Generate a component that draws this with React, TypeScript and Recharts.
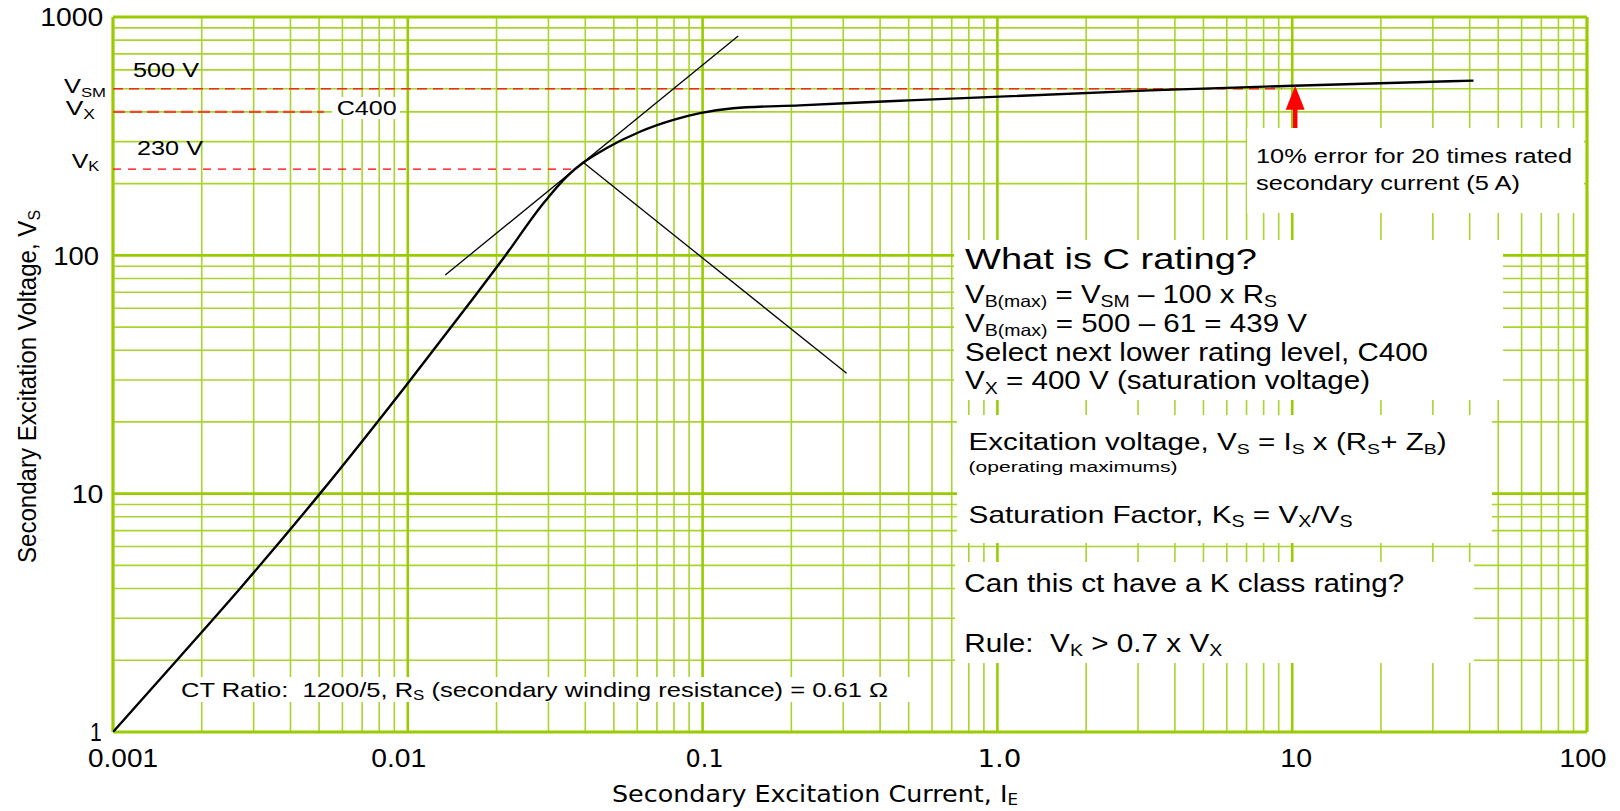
import React from 'react';
import { ComposedChart, Line, XAxis, YAxis, ReferenceLine } from 'recharts';

// ---------- data ----------
const X_DECADES = [0.001, 0.01, 0.1, 1, 10, 100];
const X_TICK_LABELS = ['0.001', '0.01', '0.1', '1.0', '10', '100'];
const Y_DECADES = [1, 10, 100, 1000];
const Y_TICK_LABELS = ['1', '10', '100', '1000'];
const MINOR_MULTS = [2, 3, 4, 5, 6, 7, 8, 9];

// excitation curve: secondary excitation current (A) vs secondary voltage (V)
const CURVE_I = [0.001, 0.00167, 0.00273, 0.0051, 0.0099, 0.0165, 0.0211, 0.0288, 0.0346, 0.0394, 0.0473, 0.0613, 0.0796, 0.098, 0.127, 0.214, 0.467, 3.29, 10.1, 41.2];
const CURVE_V = [1, 2.04, 4.07, 10.2, 28.6, 65, 97.2, 165, 214, 245, 282, 330, 370, 395, 414, 426, 445, 492, 515, 541];

// knee-point construction lines
const TAN_UP_I = [0.0134, 0.132];
const TAN_UP_V = [82.7, 833];
const TAN_DN_I = [0.0394, 0.308];
const TAN_DN_V = [245, 32];

// reference voltages
const V_SM = 500;
const V_X = 400;
const V_K = 230;
const V_SM_END_I = 9.2;
const V_X_END_I = 0.0052;
const V_K_END_I = 0.0371;

// 20x rated current marker
const ARROW_I = 10;
const ARROW_BASE_V = 340;
const ARROW_TIP_V = 515;

const curveData = CURVE_I.map((x, i) => ({ x, y: CURVE_V[i] }));
const tanUpData = TAN_UP_I.map((x, i) => ({ x, y: TAN_UP_V[i] }));
const tanDnData = TAN_DN_I.map((x, i) => ({ x, y: TAN_DN_V[i] }));
const X_MINOR = X_DECADES.slice(0, -1).flatMap((d) => MINOR_MULTS.map((m) => +(d * m).toPrecision(3)));
const Y_MINOR = Y_DECADES.slice(0, -1).flatMap((d) => MINOR_MULTS.map((m) => +(d * m).toPrecision(3)));

// ---------- style ----------
const FONT = "'Liberation Sans', Arial, Helvetica, sans-serif";
const FONT_V = "'DejaVu Sans', Verdana, sans-serif";
const GRID_MINOR = '#a8d42c';
const GRID_MAJOR = '#99cc00';

const X_TICK_STYLE: Record<string, { dx: number; w: number; family: string }> = {
  '0.001': { dx: 10, w: 70, family: FONT },
  '0.01': { dx: -9, w: 55, family: FONT },
  '0.1': { dx: 2, w: 38, family: FONT_V },
  '1.0': { dx: 2, w: 44, family: FONT_V },
  '10': { dx: 4, w: 31.7, family: FONT },
  '100': { dx: -4, w: 47, family: FONT },
};
const Y_TICK_STYLE: Record<string, { right: number; w: number }> = {
  '1': { right: 101.7, w: 11.7 },
  '10': { right: 103.3, w: 31.6 },
  '100': { right: 99, w: 45.7 },
  '1000': { right: 103.3, w: 63 },
};

function XTick(props: any) {
  const { x, payload } = props;
  const idx = X_DECADES.indexOf(payload.value);
  if (idx < 0) return <g />;
  const label = X_TICK_LABELS[idx];
  const s = X_TICK_STYLE[label];
  return (
    <text x={x + s.dx - s.w / 2} y={767} fontSize={25} fontFamily={s.family} fill="#000"
      textLength={s.w} lengthAdjust="spacingAndGlyphs">{label}</text>
  );
}

function YTick(props: any) {
  const { y, payload } = props;
  const idx = Y_DECADES.indexOf(payload.value);
  if (idx < 0) return <g />;
  const label = Y_TICK_LABELS[idx];
  const s = Y_TICK_STYLE[label];
  return (
    <text x={s.right - s.w} y={y + 9.3} fontSize={25} fontFamily={FONT} fill="#000"
      textLength={s.w} lengthAdjust="spacingAndGlyphs">{label}</text>
  );
}

function ArrowShape(props: any) {
  const { x1, y1, y2 } = props;
  const xs = x1 + 3;
  const headLen = 24;
  const headHalf = 9.5;
  const shaft = 4.5;
  return (
    <g>
      <rect x={xs - shaft / 2} y={y2 + headLen - 1} width={shaft} height={Math.max(0, y1 - y2 - headLen + 1)} fill="#ff0000" />
      <polygon points={`${xs},${y2} ${xs - headHalf},${y2 + headLen} ${xs + headHalf},${y2 + headLen}`} fill="#ff0000" />
    </g>
  );
}

type Part = string | { sub: string };

function Rich({ x, y, size, w, parts, family = FONT, subScale = 0.66, subDy, transform }: {
  x: number; y: number; size: number; w: number; parts: Part[]; family?: string; subScale?: number; subDy?: number; transform?: string;
}) {
  const d = subDy ?? size * 0.17;
  let shift = 0;
  return (
    <text x={x} y={y} fontSize={size} fontFamily={family} fill="#000" textLength={w}
      lengthAdjust="spacingAndGlyphs" xmlSpace="preserve" style={{ whiteSpace: 'pre' }} transform={transform}>
      {parts.map((p, i) => {
        if (typeof p === 'string') {
          const dy = -shift;
          shift = 0;
          return <tspan key={i} dy={dy || undefined}>{p}</tspan>;
        }
        const dy = d - shift;
        shift = d;
        return <tspan key={i} fontSize={size * subScale} dy={dy}>{p.sub}</tspan>;
      })}
    </text>
  );
}

const BOXES = [
  { x: 1247, y: 128, w: 337, h: 85 },
  { x: 954, y: 240, w: 549, h: 160 },
  { x: 957, y: 415, w: 535, h: 128 },
  { x: 955, y: 562, w: 519, h: 101 },
  { x: 176, y: 677, w: 738, h: 25 },
  { x: 332, y: 97, w: 68, h: 22 },
];

export default function App() {
  return (
    <div style={{ position: 'absolute', left: 0, top: 0, width: 1620, height: 811, background: '#fff' }}>
      <ComposedChart width={1620} height={811} margin={{ top: 17, right: 33, bottom: 0, left: 0 }}>
        <XAxis type="number" dataKey="x" scale="log" domain={[0.001, 100]} allowDataOverflow ticks={X_DECADES}
          interval={0} tick={<XTick />} axisLine={false} tickLine={false} height={79} />
        <YAxis type="number" scale="log" domain={[1, 1000]} allowDataOverflow ticks={Y_DECADES}
          interval={0} tick={<YTick />} axisLine={false} tickLine={false} width={113} />
        {X_MINOR.map((v) => (
          <ReferenceLine key={'xm' + v} x={v} stroke={GRID_MINOR} strokeWidth={1.6} />
        ))}
        {Y_MINOR.map((v) => (
          <ReferenceLine key={'ym' + v} y={v} stroke={GRID_MINOR} strokeWidth={1.6} />
        ))}
        {X_DECADES.map((v) => (
          <ReferenceLine key={'xM' + v} x={v} stroke={GRID_MAJOR} strokeWidth={v === 0.001 || v === 100 ? 3.2 : 2.6} />
        ))}
        {Y_DECADES.map((v) => (
          <ReferenceLine key={'yM' + v} y={v} stroke={GRID_MAJOR} strokeWidth={v === 1 || v === 1000 ? 3.2 : 2.6} />
        ))}
        <ReferenceLine segment={[{ x: 0.001, y: V_SM }, { x: V_SM_END_I, y: V_SM }]} stroke="#ee2a1a" strokeWidth={1.6} strokeDasharray="10 6" />
        <ReferenceLine segment={[{ x: 0.001, y: V_X }, { x: V_X_END_I, y: V_X }]} stroke="#ee4a22" strokeWidth={2.4} strokeDasharray="12 5" />
        <ReferenceLine segment={[{ x: 0.001, y: V_K }, { x: V_K_END_I, y: V_K }]} stroke="#ff0000" strokeWidth={1.3} strokeDasharray="8 7" />
        <Line data={tanUpData} dataKey="y" type="linear" stroke="#000" strokeWidth={1.3} dot={false} isAnimationActive={false} />
        <Line data={tanDnData} dataKey="y" type="linear" stroke="#000" strokeWidth={1.3} dot={false} isAnimationActive={false} />
        <Line data={curveData} dataKey="y" type="monotone" stroke="#000" strokeWidth={2.4} dot={false} isAnimationActive={false} />
        <ReferenceLine segment={[{ x: ARROW_I, y: ARROW_BASE_V }, { x: ARROW_I, y: ARROW_TIP_V }]} ifOverflow="visible" shape={ArrowShape} />
      </ComposedChart>

      <svg width={1620} height={811} style={{ position: 'absolute', left: 0, top: 0, pointerEvents: 'none' }}>
        {BOXES.map((b, i) => (
          <rect key={i} x={b.x} y={b.y} width={b.w} height={b.h} fill="#fff" />
        ))}

        {/* reference-voltage labels */}
        <Rich x={64} y={93.3} size={19.5} w={42} parts={['V', { sub: 'SM' }]} />
        <Rich x={65.7} y={115} size={21} w={29.3} parts={['V', { sub: 'X' }]} />
        <Rich x={71.7} y={167.7} size={21} w={27.6} parts={['V', { sub: 'K' }]} />
        <Rich x={133} y={77.3} size={19.5} w={66} parts={['500 V']} />
        <Rich x={137} y={155} size={19.5} w={66} parts={['230 V']} />
        <Rich x={336.7} y={115} size={21} w={60} parts={['C400']} />

        {/* 10% error note */}
        <Rich x={1256} y={163.3} size={20} w={316} parts={['10% error for 20 times rated']} />
        <Rich x={1256} y={190} size={20} w={264} parts={['secondary current (5 A)']} />

        {/* C rating box */}
        <Rich x={965} y={269.3} size={29} w={292} parts={['What is C rating?']} />
        <Rich x={965} y={303} size={25} w={312} parts={['V', { sub: 'B(max)' }, ' = V', { sub: 'SM' }, ' \u2013 100 x R', { sub: 'S' }]} />
        <Rich x={965} y={332} size={25} w={342} parts={['V', { sub: 'B(max)' }, ' = 500 \u2013 61 = 439 V']} />
        <Rich x={965} y={361} size={25} w={463} parts={['Select next lower rating level, C400']} />
        <Rich x={965} y={389.3} size={25} w={405} parts={['V', { sub: 'X' }, ' = 400 V (saturation voltage)']} />

        <Rich x={968.6} y={450} size={23.5} w={478} parts={['Excitation voltage, V', { sub: 'S' }, ' = I', { sub: 'S' }, ' x (R', { sub: 'S' }, '+ Z', { sub: 'B' }, ')']} />
        <Rich x={968.6} y={472} size={15.5} w={209} parts={['(operating maximums)']} />
        <Rich x={968.6} y={523.3} size={24} w={384} parts={['Saturation Factor, K', { sub: 'S' }, ' = V', { sub: 'X' }, '/V', { sub: 'S' }]} />

        <Rich x={964.3} y={591.7} size={25} w={440} parts={['Can this ct have a K class rating?']} />
        <Rich x={964.3} y={651.7} size={25} w={258} parts={['Rule:  V', { sub: 'K' }, ' > 0.7 x V', { sub: 'X' }]} />

        <Rich x={181} y={696.7} size={21} w={707} parts={['CT Ratio:  1200/5, R', { sub: 'S' }, ' (secondary winding resistance) = 0.61 \u03A9']} />

        {/* axis titles */}
        <Rich x={612} y={802} size={23} w={406} family={FONT_V} subDy={3} parts={['Secondary Excitation Current, I', { sub: 'E' }]} />
        <Rich x={0} y={0} size={26} w={353} transform="translate(36,563) rotate(-90)" parts={['Secondary Excitation Voltage, V', { sub: 'S' }]} />
      </svg>
    </div>
  );
}
